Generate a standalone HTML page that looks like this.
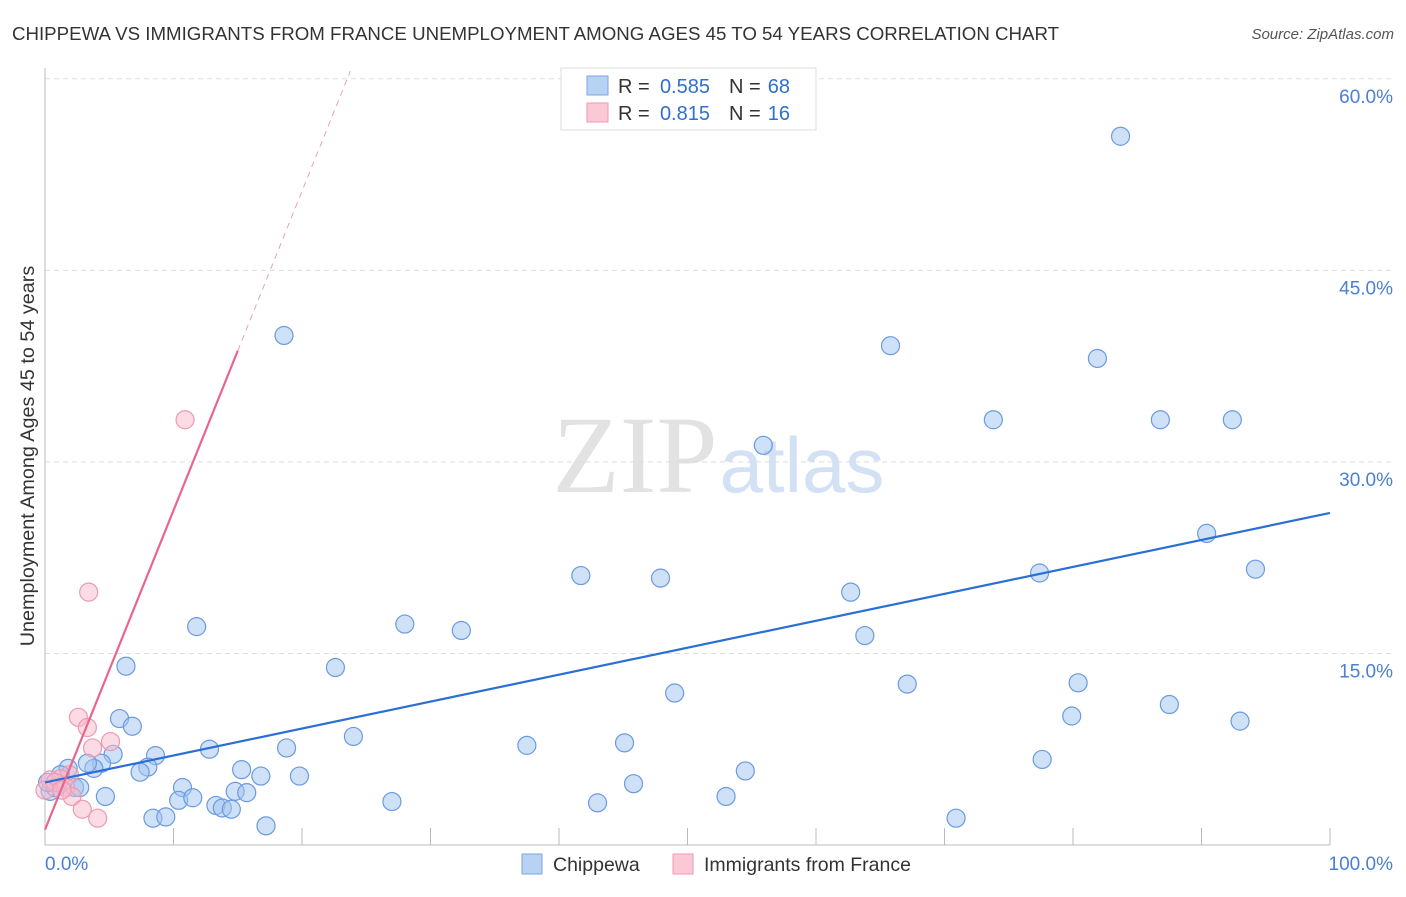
<!DOCTYPE html>
<html><head><meta charset="utf-8"><style>
body{margin:0;background:#fff;}
svg text{font-family:"Liberation Sans",sans-serif;}
</style></head><body>
<svg id="chart" width="1406" height="892" xmlns="http://www.w3.org/2000/svg">
<text x="12" y="40" font-size="18.7" fill="#333">CHIPPEWA VS IMMIGRANTS FROM FRANCE UNEMPLOYMENT AMONG AGES 45 TO 54 YEARS CORRELATION CHART</text>
<text x="1394" y="39" font-size="15" fill="#555" font-style="italic" text-anchor="end">Source: ZipAtlas.com</text>
<text x="635" y="492" font-size="110" fill="#e2e2e2" text-anchor="middle" style="font-family:'Liberation Serif',serif">ZIP</text>
<text x="802" y="492" font-size="78" fill="#d3e1f4" text-anchor="middle">atlas</text>
<text transform="translate(34,456) rotate(-90)" font-size="19.8" fill="#333" text-anchor="middle">Unemployment Among Ages 45 to 54 years</text>
<g id="grid"></g><g id="marks"></g>
<g>
<rect x="561" y="68" width="255" height="62" fill="#fff" stroke="#ddd"/>
<rect x="587" y="76" width="21" height="19" fill="#b8d2f4" stroke="#7aa6e4"/>
<text x="618" y="93" font-size="20" fill="#333">R =</text>
<text x="710" y="93" font-size="20" fill="#2f6fd0" text-anchor="end">0.585</text>
<text x="729" y="93" font-size="20" fill="#333">N =</text>
<text x="790" y="93" font-size="20" fill="#2f6fd0" text-anchor="end">68</text>
<rect x="587" y="103" width="21" height="19" fill="#fbc9d6" stroke="#ec9ab2"/>
<text x="618" y="120" font-size="20" fill="#333">R =</text>
<text x="710" y="120" font-size="20" fill="#2f6fd0" text-anchor="end">0.815</text>
<text x="729" y="120" font-size="20" fill="#333">N =</text>
<text x="790" y="120" font-size="20" fill="#2f6fd0" text-anchor="end">16</text>
</g>
<g>
<rect x="522" y="854" width="20" height="20" fill="#b8d2f4" stroke="#7aa6e4"/>
<text x="553" y="871" font-size="19.5" fill="#333">Chippewa</text>
<rect x="673" y="854" width="20" height="20" fill="#fbc9d6" stroke="#ec9ab2"/>
<text x="704" y="871" font-size="19.5" fill="#333">Immigrants from France</text>
</g>
</svg>
<script>
const blueX=[83.7,18.6,65.8,81.9,73.8,86.8,92.4,55.9,90.4,41.7,47.9,77.4,94.2,62.7,11.8,28.0,32.4,63.8,6.3,22.6,49.0,67.1,80.4,79.9,87.5,93.0,5.8,6.8,24.0,12.8,18.8,37.5,45.1,77.6,5.3,8.6,4.4,8.0,7.4,3.8,15.3,16.8,19.8,54.5,1.8,3.3,1.2,10.7,45.8,10.4,11.5,14.8,15.7,4.7,13.3,13.8,14.5,27.0,43.0,53.0,8.4,9.4,17.2,70.9,0.4,0.8,2.3,2.7,0.2];
const blueY=[55.5,39.9,39.1,38.1,33.3,33.3,33.3,31.3,24.4,21.1,20.9,21.3,21.6,19.8,17.1,17.3,16.8,16.4,14.0,13.9,11.9,12.6,12.7,10.1,11.0,9.7,9.9,9.3,8.5,7.5,7.6,7.8,8.0,6.7,7.1,7.0,6.4,6.1,5.7,6.0,5.9,5.4,5.4,5.8,6.0,6.4,5.5,4.5,4.8,3.5,3.7,4.2,4.1,3.8,3.1,2.9,2.8,3.4,3.3,3.8,2.1,2.2,1.5,2.1,4.2,4.5,4.5,4.5,4.9];
const pinkX=[10.9,3.4,2.6,3.3,3.7,5.1,1.9,1.2,0.4,0.8,1.6,2.1,2.9,4.1,0,1.3];
const pinkY=[33.3,19.8,10.0,9.2,7.6,8.1,5.5,5.2,5.1,4.9,4.5,3.8,2.8,2.1,4.3,4.3];
const blueFit=[4.9,26.0];
const pinkFit=[1.2,2.5];
const yTicks=[15,30,45,60];
const xTickVals=[0,10,20,30,40,50,60,70,80,90,100];
const NS="http://www.w3.org/2000/svg";
const sx=v=>45+v*12.85, sy=v=>845-v*12.77;
function mk(t,a,p){const e=document.createElementNS(NS,t);for(const k in a)e.setAttribute(k,a[k]);p.appendChild(e);return e;}
const g=document.getElementById('grid'), m=document.getElementById('marks');
yTicks.forEach(v=>{
 const l=mk('line',{x1:45,x2:1393,y1:sy(v),y2:sy(v),stroke:'#ddd','stroke-dasharray':'5,4'},g);
 
 
 const t=mk('text',{x:1393,y:sy(v)+24,'font-size':19,fill:'#4a7fd4','text-anchor':'end'},g);t.textContent=v.toFixed(1)+'%';
 
 
});
mk('line',{x1:45,x2:45,y1:68,y2:845,stroke:'#bbb'},g);
mk('line',{x1:45,x2:1330,y1:845,y2:845,stroke:'#bbb'},g);
xTickVals.forEach(v=>{if(v>0){const l=mk('line',{x1:sx(v),x2:sx(v),y1:828,y2:845,stroke:'#bbb'},g);
 
 }});
let t0=mk('text',{x:45,y:870,'font-size':19,fill:'#4a7fd4'},g);t0.textContent='0.0%';


let t1=mk('text',{x:1393,y:870,'font-size':19,fill:'#4a7fd4','text-anchor':'end'},g);t1.textContent='100.0%';


blueX.forEach((x,i)=>{const c=mk('circle',{cx:sx(x),cy:sy(blueY[i]),r:9,fill:'rgba(160,196,240,0.5)',stroke:'#6a9ae0','stroke-width':1.2},m);
 
 });
pinkX.forEach((x,i)=>{const c=mk('circle',{cx:sx(x),cy:sy(pinkY[i]),r:9,fill:'rgba(248,184,202,0.5)',stroke:'#ec9ab2','stroke-width':1.2},m);
 
 });
const bl=mk('line',{x1:sx(0),y1:sy(blueFit[0]),x2:sx(100),y2:sy(blueFit[1]),stroke:'#2a6fd6','stroke-width':2.2},m);


const pEnd=15, yTop=60.6, pTop=(yTop-pinkFit[0])/pinkFit[1];
const pl=mk('line',{x1:sx(0),y1:sy(pinkFit[0]),x2:sx(pEnd),y2:sy(pinkFit[0]+pinkFit[1]*pEnd),stroke:'#e8668e','stroke-width':2.2},m);


const pd=mk('line',{x1:sx(pEnd),y1:sy(pinkFit[0]+pinkFit[1]*pEnd),x2:sx(pTop),y2:sy(yTop),stroke:'#e8a0b4','stroke-width':1,'stroke-dasharray':'6,5'},m);


</script>
</body></html>
